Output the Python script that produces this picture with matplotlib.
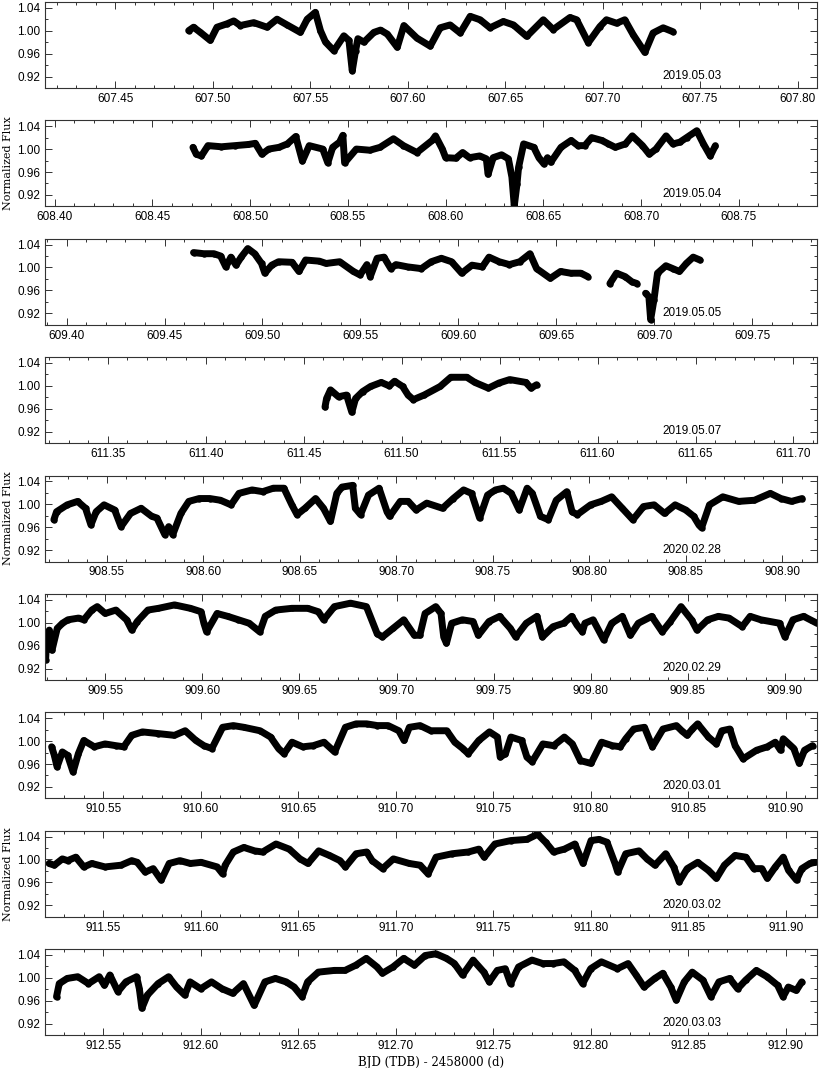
import numpy as np
import matplotlib
matplotlib.use("Agg")
import matplotlib.pyplot as plt
from matplotlib.ticker import MultipleLocator, FormatStrFormatter

# light curves, BJD(TDB) - 2458000 and normalized flux
t1 = [607.4877, 607.4902, 607.4937, 607.4988, 607.5022, 607.5074, 607.5108, 607.5142, 607.5211, 607.5279,
      607.5330, 607.5382, 607.5450, 607.5485, 607.5527, 607.5553, 607.5579, 607.5622, 607.5673, 607.5699,
      607.5716, 607.5733, 607.5745, 607.5776, 607.5827, 607.5861, 607.5896, 607.5947, 607.5981, 607.6048,
      607.6116, 607.6167, 607.6218, 607.6270, 607.6321, 607.6372, 607.6423, 607.6491, 607.6543, 607.6611,
      607.6696, 607.6747, 607.6833, 607.6867, 607.6927, 607.6986, 607.7020, 607.7072, 607.7114, 607.7157,
      607.7217, 607.7259, 607.7311, 607.7362]
f1 = [1.000, 1.006, 0.997, 0.983, 1.006, 1.012, 1.017, 1.009, 1.014, 1.006,
      1.020, 1.010, 0.997, 1.020, 1.032, 1.000, 0.980, 0.965, 0.991, 0.983,
      0.930, 0.965, 0.986, 0.980, 0.997, 1.001, 0.994, 0.971, 1.009, 0.987,
      0.973, 1.005, 1.010, 0.996, 1.025, 1.019, 1.005, 1.016, 1.010, 0.990,
      1.019, 1.002, 1.023, 1.019, 0.979, 1.007, 1.019, 1.013, 1.019, 0.993,
      0.962, 0.996, 1.005, 0.998]

t2 = [608.4707, 608.4724, 608.4750, 608.4784, 608.4853, 608.4922, 608.4991, 608.5026, 608.5060, 608.5095,
      608.5147, 608.5190, 608.5233, 608.5267, 608.5302, 608.5371, 608.5397, 608.5422, 608.5457, 608.5474,
      608.5483, 608.5543, 608.5612, 608.5664, 608.5733, 608.5784, 608.5853, 608.5931, 608.5948, 608.5983,
      608.6000, 608.6052, 608.6087, 608.6122, 608.6174, 608.6208, 608.6217, 608.6243, 608.6286, 608.6321,
      608.6339, 608.6351, 608.6365, 608.6373, 608.6399, 608.6451, 608.6477, 608.6503, 608.6521, 608.6538,
      608.6590, 608.6642, 608.6677, 608.6712, 608.6747, 608.6799, 608.6833, 608.6868, 608.6920, 608.6955,
      608.7007, 608.7042, 608.7076, 608.7128, 608.7163, 608.7198, 608.7233, 608.7285, 608.7319, 608.7354,
      608.7380]
f2 = [1.003, 0.991, 0.988, 1.006, 1.004, 1.006, 1.008, 1.010, 0.991, 1.000,
      1.003, 1.009, 1.022, 0.979, 1.006, 1.000, 0.976, 1.003, 1.012, 1.024,
      0.976, 1.000, 0.998, 1.003, 1.018, 1.006, 0.994, 1.015, 1.023, 1.000,
      0.985, 0.984, 0.994, 0.985, 0.988, 0.983, 0.956, 0.985, 0.990, 0.983,
      0.951, 0.901, 0.939, 0.968, 1.009, 1.003, 0.985, 0.974, 0.985, 0.977,
      1.003, 1.015, 1.006, 1.006, 1.020, 1.015, 1.009, 1.003, 1.009, 1.023,
      1.006, 0.991, 1.000, 1.023, 1.009, 1.012, 1.020, 1.032, 1.009, 0.988,
      1.006]

t3 = [609.4648, 609.4700, 609.4752, 609.4786, 609.4813, 609.4839, 609.4865, 609.4891, 609.4925, 609.4960,
      609.4995, 609.5012, 609.5047, 609.5082, 609.5151, 609.5186, 609.5220, 609.5290, 609.5325, 609.5394,
      609.5464, 609.5498, 609.5533, 609.5550, 609.5585, 609.5620, 609.5655, 609.5681, 609.5741, 609.5811,
      609.5861, 609.5913, 609.5965, 609.6017, 609.6069, 609.6122, 609.6156, 609.6208, 609.6260, 609.6313,
      609.6365, 609.6399, 609.6469, 609.6521, 609.6573, 609.6625, 609.6660, 609.6700, 609.6773, 609.6807,
      609.6851, 609.6885, 609.6911, 609.6930, 609.6955, 609.6972, 609.6981, 609.6998, 609.7016, 609.7059,
      609.7094, 609.7128, 609.7163, 609.7198, 609.7233]
f3 = [1.026, 1.024, 1.024, 1.020, 1.001, 1.018, 1.004, 1.018, 1.033, 1.024,
      1.007, 0.990, 1.004, 1.010, 1.009, 0.993, 1.013, 1.011, 1.007, 1.010,
      0.993, 0.987, 1.005, 0.984, 1.016, 1.018, 0.998, 1.005, 1.001, 0.998,
      1.010, 1.016, 1.010, 0.990, 1.004, 1.001, 1.018, 1.010, 1.005, 1.010,
      1.024, 0.998, 0.981, 0.993, 0.990, 0.990, 0.984, np.nan, 0.972, 0.990,
      0.984, 0.975, 0.972, np.nan, 0.955, 0.949, 0.909, 0.944, 0.990, 1.003,
      0.998, 0.993, 1.007, 1.018, 1.013]

t4 = [611.4609, 611.4617, 611.4637, 611.4678, 611.4719, 611.4746, 611.4765, 611.4801, 611.4842, 611.4896,
      611.4937, 611.4964, 611.5005, 611.5033, 611.5060, 611.5115, 611.5197, 611.5251, 611.5333, 611.5374,
      611.5443, 611.5497, 611.5552, 611.5634, 611.5661, 611.5689]
f4 = [0.963, 0.978, 0.993, 0.981, 0.984, 0.954, 0.978, 0.990, 0.999, 1.006,
      1.000, 1.008, 0.999, 0.984, 0.976, 0.984, 0.999, 1.015, 1.015, 1.006,
      0.996, 1.005, 1.011, 1.006, 0.996, 1.002]

t5 = [908.5226, 908.5240, 908.5295, 908.5349, 908.5390, 908.5418, 908.5445, 908.5486, 908.5541, 908.5574,
      908.5623, 908.5678, 908.5733, 908.5760, 908.5801, 908.5821, 908.5842, 908.5884, 908.5925, 908.5979,
      908.6034, 908.6089, 908.6144, 908.6185, 908.6253, 908.6308, 908.6363, 908.6418, 908.6459, 908.6486,
      908.6527, 908.6582, 908.6623, 908.6659, 908.6692, 908.6719, 908.6774, 908.6788, 908.6815, 908.6856,
      908.6911, 908.6952, 908.6966, 908.7021, 908.7062, 908.7103, 908.7158, 908.7240, 908.7295, 908.7349,
      908.7390, 908.7432, 908.7473, 908.7514, 908.7555, 908.7596, 908.7637, 908.7678, 908.7705, 908.7747,
      908.7788, 908.7829, 908.7884, 908.7911, 908.7938, 908.8007, 908.8062, 908.8116, 908.8171, 908.8226,
      908.8281, 908.8336, 908.8390, 908.8445, 908.8500, 908.8541, 908.8568, 908.8582, 908.8623, 908.8692,
      908.8774, 908.8856, 908.8938, 908.8993, 908.9048, 908.9103]
f5 = [0.973, 0.987, 0.999, 1.005, 0.993, 0.964, 0.987, 0.999, 0.990, 0.961,
      0.984, 0.993, 0.979, 0.976, 0.947, 0.961, 0.947, 0.984, 1.005, 1.010,
      1.010, 1.007, 0.999, 1.019, 1.025, 1.022, 1.028, 1.028, 0.999, 0.982,
      0.993, 1.010, 0.993, 0.970, 1.019, 1.030, 1.033, 0.993, 0.982, 1.016,
      1.028, 0.987, 0.979, 1.005, 1.005, 0.990, 1.002, 0.993, 1.010, 1.025,
      1.019, 0.976, 1.016, 1.025, 1.028, 1.019, 0.990, 1.028, 1.019, 0.979,
      0.973, 1.007, 1.022, 0.987, 0.982, 0.999, 1.005, 1.013, 0.993, 0.973,
      0.996, 0.999, 0.984, 0.999, 0.990, 0.979, 0.964, 0.959, 0.999, 1.013,
      1.005, 1.007, 1.019, 1.010, 1.005, 1.010]

t6 = [909.5193, 909.5198, 909.5212, 909.5226, 909.5253, 909.5280, 909.5308, 909.5363, 909.5390, 909.5431,
      909.5459, 909.5500, 909.5555, 909.5610, 909.5637, 909.5665, 909.5720, 909.5774, 909.5857, 909.5939,
      909.5994, 909.6008, 909.6022, 909.6076, 909.6131, 909.6186, 909.6241, 909.6296, 909.6324, 909.6378,
      909.6461, 909.6543, 909.6598, 909.6625, 909.6680, 909.6763, 909.6845, 909.6900, 909.6927, 909.6982,
      909.7037, 909.7092, 909.7120, 909.7147, 909.7202, 909.7229, 909.7243, 909.7257, 909.7284, 909.7339,
      909.7394, 909.7421, 909.7476, 909.7531, 909.7586, 909.7614, 909.7668, 909.7723, 909.7751, 909.7806,
      909.7861, 909.7902, 909.7929, 909.7957, 909.7970, 909.8012, 909.8067, 909.8108, 909.8163, 909.8204,
      909.8245, 909.8314, 909.8368, 909.8410, 909.8465, 909.8519, 909.8547, 909.8602, 909.8657, 909.8712,
      909.8780, 909.8821, 909.8876, 909.8972, 909.9000, 909.9041, 909.9096, 909.9165]
f6 = [0.935, 0.967, 0.987, 0.952, 0.990, 0.999, 1.005, 1.008, 1.005, 1.022,
      1.028, 1.016, 1.022, 1.005, 0.987, 1.002, 1.022, 1.025, 1.031, 1.025,
      1.019, 0.999, 0.984, 1.016, 1.011, 1.005, 0.999, 0.984, 1.011, 1.022,
      1.025, 1.025, 1.019, 1.005, 1.028, 1.034, 1.028, 0.981, 0.975, 0.990,
      1.005, 0.978, 0.978, 1.016, 1.028, 1.016, 0.975, 0.964, 0.999, 1.005,
      1.002, 0.978, 1.002, 1.011, 0.990, 0.975, 0.999, 1.011, 0.975, 0.993,
      0.999, 1.011, 0.996, 0.984, 0.999, 1.005, 0.970, 0.999, 1.011, 0.978,
      0.999, 1.011, 0.984, 1.002, 1.028, 1.005, 0.987, 1.005, 1.011, 1.008,
      0.993, 1.011, 1.005, 0.999, 0.975, 1.005, 1.011, 0.999]

t7 = [910.5234, 910.5248, 910.5262, 910.5289, 910.5316, 910.5344, 910.5371, 910.5399, 910.5453, 910.5508,
      910.5563, 910.5604, 910.5645, 910.5700, 910.5782, 910.5864, 910.5919, 910.5974, 910.6015, 910.6056,
      910.6111, 910.6166, 910.6220, 910.6303, 910.6357, 910.6398, 910.6426, 910.6467, 910.6522, 910.6576,
      910.6631, 910.6686, 910.6741, 910.6796, 910.6850, 910.6905, 910.6960, 910.7015, 910.7042, 910.7069,
      910.7124, 910.7179, 910.7261, 910.7302, 910.7343, 910.7371, 910.7425, 910.7480, 910.7521, 910.7535,
      910.7562, 910.7590, 910.7645, 910.7672, 910.7699, 910.7754, 910.7809, 910.7864, 910.7905, 910.7946,
      910.8001, 910.8055, 910.8110, 910.8151, 910.8179, 910.8220, 910.8275, 910.8316, 910.8370, 910.8439,
      910.8466, 910.8494, 910.8521, 910.8548, 910.8603, 910.8644, 910.8672, 910.8713, 910.8740, 910.8781,
      910.8850, 910.8905, 910.8946, 910.8973, 910.8987, 910.9041, 910.9069, 910.9096, 910.9137]
f7 = [0.990, 0.975, 0.955, 0.981, 0.975, 0.946, 0.978, 1.001, 0.990, 0.995,
      0.992, 0.990, 1.010, 1.016, 1.013, 1.010, 1.018, 1.001, 0.992, 0.987,
      1.024, 1.027, 1.024, 1.018, 1.007, 0.987, 0.978, 0.998, 0.990, 0.992,
      0.998, 0.981, 1.024, 1.030, 1.030, 1.027, 1.027, 1.018, 1.001, 1.024,
      1.027, 1.018, 1.018, 0.998, 0.987, 0.978, 1.001, 1.016, 1.007, 0.972,
      0.978, 1.007, 1.001, 0.972, 0.964, 0.995, 0.992, 1.007, 0.995, 0.966,
      0.961, 0.998, 0.992, 0.990, 1.004, 1.021, 1.024, 0.990, 1.021, 1.027,
      1.018, 1.010, 1.021, 1.030, 1.007, 0.995, 1.018, 1.021, 0.992, 0.969,
      0.984, 0.990, 0.998, 0.984, 1.004, 0.987, 0.961, 0.984, 0.992]

t8 = [911.5221, 911.5248, 911.5289, 911.5316, 911.5358, 911.5399, 911.5440, 911.5508, 911.5590, 911.5645,
      911.5673, 911.5714, 911.5755, 911.5796, 911.5837, 911.5892, 911.5946, 911.6001, 911.6083, 911.6111,
      911.6124, 911.6166, 911.6220, 911.6275, 911.6316, 911.6385, 911.6453, 911.6508, 911.6549, 911.6604,
      911.6659, 911.6713, 911.6741, 911.6796, 911.6850, 911.6878, 911.6932, 911.6987, 911.7069, 911.7124,
      911.7165, 911.7206, 911.7289, 911.7371, 911.7425, 911.7453, 911.7508, 911.7590, 911.7672, 911.7727,
      911.7768, 911.7809, 911.7864, 911.7918, 911.7960, 911.8001, 911.8042, 911.8083, 911.8124, 911.8138,
      911.8179, 911.8247, 911.8288, 911.8329, 911.8384, 911.8425, 911.8453, 911.8494, 911.8548, 911.8603,
      911.8644, 911.8685, 911.8740, 911.8795, 911.8836, 911.8877, 911.8905, 911.8946, 911.8987, 911.9014,
      911.9055, 911.9082, 911.9124, 911.9151]
f8 = [0.993, 0.990, 1.001, 0.998, 1.004, 0.987, 0.993, 0.987, 0.990, 0.998,
      0.995, 0.978, 0.984, 0.964, 0.993, 0.998, 0.993, 0.995, 0.987, 0.975,
      0.990, 1.013, 1.021, 1.015, 1.013, 1.027, 1.018, 1.001, 0.993, 1.015,
      1.007, 0.998, 0.987, 1.010, 1.013, 0.998, 0.984, 1.001, 0.993, 0.990,
      0.975, 1.004, 1.010, 1.013, 1.018, 1.004, 1.027, 1.033, 1.035, 1.044,
      1.030, 1.013, 1.018, 1.027, 0.993, 1.033, 1.035, 1.030, 0.993, 0.978,
      1.010, 1.015, 1.001, 0.990, 1.010, 0.987, 0.961, 0.984, 0.995, 0.981,
      0.967, 0.990, 1.007, 1.004, 0.984, 0.984, 0.967, 0.987, 1.004, 0.981,
      0.964, 0.984, 0.993, 0.995]

t9 = [912.5259, 912.5273, 912.5314, 912.5368, 912.5423, 912.5478, 912.5505, 912.5533, 912.5574, 912.5615,
      912.5670, 912.5684, 912.5697, 912.5725, 912.5780, 912.5834, 912.5875, 912.5917, 912.5944, 912.5999,
      912.6054, 912.6108, 912.6163, 912.6218, 912.6273, 912.6328, 912.6382, 912.6437, 912.6478, 912.6519,
      912.6547, 912.6602, 912.6684, 912.6739, 912.6794, 912.6848, 912.6903, 912.6931, 912.6985, 912.7040,
      912.7095, 912.7150, 912.7205, 912.7259, 912.7300, 912.7342, 912.7396, 912.7451, 912.7479, 912.7520,
      912.7561, 912.7588, 912.7629, 912.7698, 912.7753, 912.7807, 912.7862, 912.7917, 912.7958, 912.7999,
      912.8054, 912.8136, 912.8191, 912.8232, 912.8273, 912.8328, 912.8369, 912.8410, 912.8438, 912.8479,
      912.8520, 912.8575, 912.8616, 912.8657, 912.8712, 912.8753, 912.8794, 912.8849, 912.8904, 912.8958,
      912.8986, 912.9013, 912.9054, 912.9082]
f9 = [0.967, 0.990, 0.999, 1.002, 0.990, 1.002, 0.987, 1.005, 0.976, 0.993,
      1.002, 0.981, 0.947, 0.970, 0.990, 1.002, 0.984, 0.970, 0.993, 0.981,
      0.993, 0.981, 0.973, 0.990, 0.952, 0.993, 0.999, 0.993, 0.984, 0.967,
      0.993, 1.010, 1.013, 1.013, 1.022, 1.034, 1.019, 1.008, 1.019, 1.034,
      1.022, 1.039, 1.042, 1.034, 1.025, 1.005, 1.031, 1.010, 0.993, 1.013,
      1.016, 0.990, 1.019, 1.031, 1.025, 1.025, 1.028, 1.013, 0.990, 1.016,
      1.028, 1.016, 1.025, 1.005, 0.984, 0.999, 1.008, 0.984, 0.961, 0.993,
      1.010, 0.996, 0.967, 0.993, 0.999, 0.981, 0.996, 1.013, 1.002, 0.987,
      0.967, 0.984, 0.978, 0.993]

times = [t1, t2, t3, t4, t5, t6, t7, t8, t9]
fluxes = [f1, f2, f3, f4, f5, f6, f7, f8, f9]
xlims = [(607.414, 607.810), (608.395, 608.790), (609.389, 609.783), (611.318, 611.712),
         (908.518, 908.918), (909.519, 909.9165), (910.520, 910.916), (911.520, 911.916),
         (912.520, 912.916)]
dates = ["2019.05.03", "2019.05.04", "2019.05.05", "2019.05.07", "2020.02.28",
         "2020.02.29", "2020.03.01", "2020.03.02", "2020.03.03"]
ylabel_panels = [1, 4, 7]

W, H = 830, 1068
fig = plt.figure(figsize=(W / 100, H / 100), dpi=100)

left, width = 45, 772
top0, step, ph = 2, 118.4, 86

for i in range(9):
    top = top0 + i * step
    ax = fig.add_axes([left / W, 1 - (top + ph) / H, width / W, ph / H])
    ax.plot(times[i], fluxes[i], color="black", lw=5.0, marker="o", ms=3.6,
            solid_joinstyle="round", solid_capstyle="round")
    ax.set_xlim(*xlims[i])
    ax.set_ylim(0.90, 1.05)
    ax.xaxis.set_major_locator(MultipleLocator(0.05))
    ax.xaxis.set_minor_locator(MultipleLocator(0.01))
    ax.yaxis.set_major_locator(MultipleLocator(0.04))
    ax.yaxis.set_minor_locator(MultipleLocator(0.02))
    ax.xaxis.set_major_formatter(FormatStrFormatter("%.2f"))
    ax.yaxis.set_major_formatter(FormatStrFormatter("%.2f"))
    ax.tick_params(which="both", direction="in", top=True, right=True,
                   labelsize=8.5, width=0.7, color="#333333")
    ax.tick_params(which="major", length=5)
    ax.tick_params(which="minor", length=2.5)
    for lab in ax.get_xticklabels() + ax.get_yticklabels():
        lab.set_family("Liberation Sans")
    for s in ax.spines.values():
        s.set_linewidth(0.8)
        s.set_color("#333333")
    ax.text(0.80, 0.14, dates[i], transform=ax.transAxes, fontsize=8.5,
            family="Liberation Sans", ha="left", va="center")
    if i in ylabel_panels:
        fig.text(8 / W, 1 - (top + ph / 2) / H, "Normalized Flux", rotation=90,
                 family="DejaVu Serif", fontsize=8, ha="center", va="center")
    if i == 8:
        ax.set_xlabel("BJD (TDB) - 2458000 (d)", family="DejaVu Serif", fontsize=8.5, labelpad=3)

fig.savefig("out.png", dpi=100)
